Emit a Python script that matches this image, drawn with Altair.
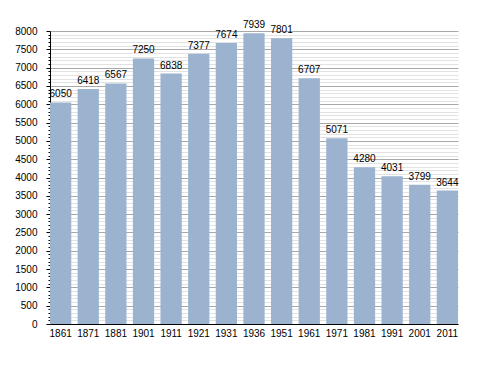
import altair as alt
import pandas as pd

years = ["1861", "1871", "1881", "1901", "1911", "1921", "1931", "1936",
         "1951", "1961", "1971", "1981", "1991", "2001", "2011"]
population = [6050, 6418, 6567, 7250, 6838, 7377, 7674, 7939,
              7801, 6707, 5071, 4280, 4031, 3799, 3644]
y_ticks = list(range(0, 8001, 100))

df = pd.DataFrame({"year": years, "pop": population})

FONT = "Liberation Sans"
MAJOR = "datum.value % 500 == 0"

x_enc = alt.X("year:N", sort=years, title=None,
              scale=alt.Scale(paddingInner=0.23, paddingOuter=0),
              axis=alt.Axis(labelAngle=0, ticks=False, domainColor="black",
                            labelFont=FONT, labelFontSize=10, labelColor="black",
                            labelPadding=4, grid=False))

y_enc = alt.Y("pop:Q", title=None,
              scale=alt.Scale(domain=[0, 8000], nice=False),
              axis=alt.Axis(values=y_ticks, domainColor="black",
                            tickColor="black",
                            tickSize={"condition": {"test": MAJOR, "value": 4}, "value": 2},
                            labelExpr="datum.value % 500 == 0 ? datum.label : ''",
                            labelOverlap=False, labelFont=FONT, labelFontSize=10,
                            labelColor="black", labelPadding=9,
                            format="d",
                            grid=True,
                            gridColor={"condition": {"test": MAJOR, "value": "#a8a8a8"}, "value": "#e2e2e2"},
                            gridWidth=1))

bars = alt.Chart(df).mark_bar(color="#9bb3cf").encode(x=x_enc, y=y_enc)

labels = alt.Chart(df).mark_text(baseline="alphabetic", dy=-5, font=FONT,
                                 fontSize=10, color="black").encode(
    x=x_enc, y=y_enc,
    text=alt.Text("pop:Q", format="d"))

chart = (bars + labels).properties(
    width=408, height=293,
    autosize=alt.AutoSizeParams(type="none"),
    padding={"left": 42, "top": 23, "right": 20, "bottom": 40},
).configure_view(stroke=None).configure_axis(domainWidth=1)

chart.save("out.html", embed_options={"renderer": "svg", "actions": False})
